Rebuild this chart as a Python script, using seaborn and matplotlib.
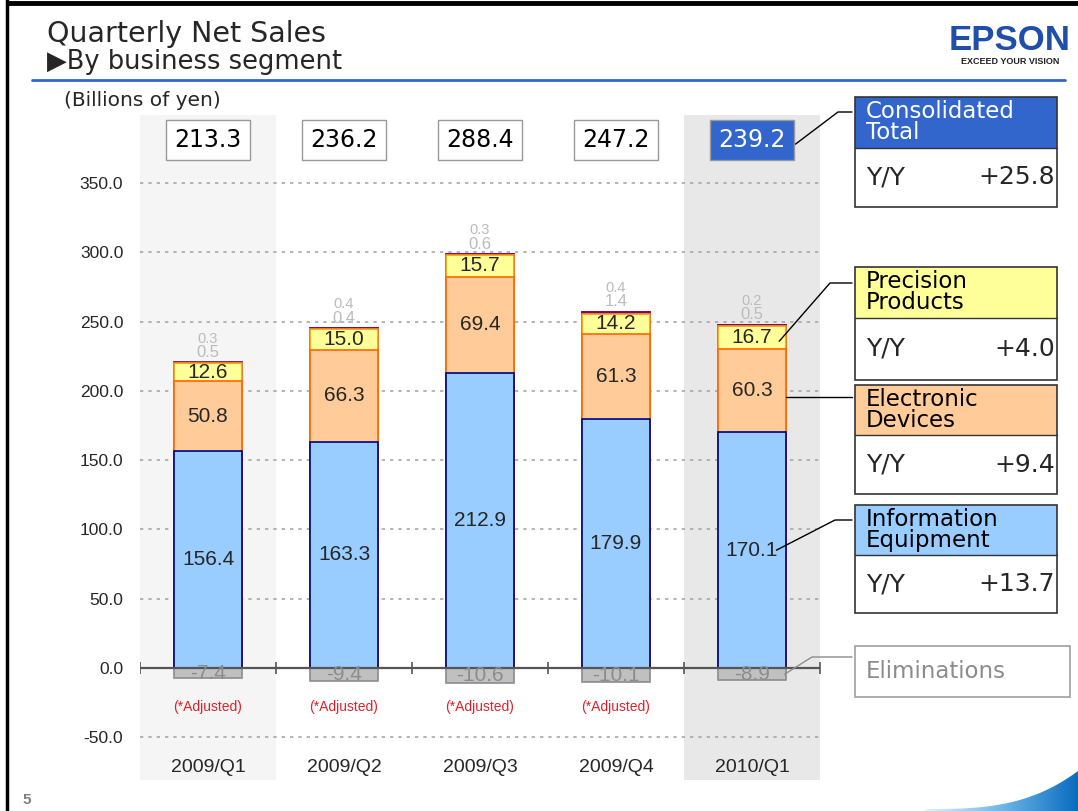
import matplotlib as mpl
mpl.use('Agg')
import matplotlib.pyplot as plt
from matplotlib.patches import Rectangle, PathPatch
from matplotlib.path import Path
from matplotlib.colors import LinearSegmentedColormap
import numpy as np
import pandas as pd
import seaborn as sns

# --- datos ---
quarters = ['2009/Q1', '2009/Q2', '2009/Q3', '2009/Q4', '2010/Q1']
info_equipment = [156.4, 163.3, 212.9, 179.9, 170.1]
electronic_devices = [50.8, 66.3, 69.4, 61.3, 60.3]
precision_products = [12.6, 15.0, 15.7, 14.2, 16.7]
other = [0.5, 0.4, 0.6, 1.4, 0.5]
corporate = [0.3, 0.4, 0.3, 0.4, 0.2]
eliminations = [-7.4, -9.4, -10.6, -10.1, -8.9]
totals = ['213.3', '236.2', '288.4', '247.2', '239.2']
adjusted = [True, True, True, True, False]
yticks = [-50, 0, 50, 100, 150, 200, 250, 300, 350]
yoy_names = ['Consolidated\nTotal', 'Precision\nProducts', 'Electronic\nDevices', 'Information\nEquipment']
yoy_values = ['+25.8', '+4.0', '+9.4', '+13.7']

df = pd.DataFrame({'quarter': quarters, 'info': info_equipment, 'elec': electronic_devices,
                   'prec': precision_products, 'other': other, 'corp': corporate, 'elim': eliminations})
df['c_info'] = df['info']
df['c_elec'] = df['c_info'] + df['elec']
df['c_prec'] = df['c_elec'] + df['prec']
df['c_other'] = df['c_prec'] + df['other']
df['c_corp'] = df['c_other'] + df['corp']

sns.set_theme(style='white')
plt.rcParams['font.family'] = ['Liberation Sans', 'DejaVu Sans']
gothic = ['DejaVu Sans']

W, H = 1078, 811
fig = plt.figure(figsize=(W / 100, H / 100), dpi=100)
fig.patch.set_facecolor('white')

# ejes principales en pixeles: x 140..820, y 115..780
ax = fig.add_axes([140 / W, 1 - 780 / H, 680 / W, 665 / H])
ax.set_facecolor('none')

ax.axvspan(-0.5, 0.5, color='#F5F5F5', zorder=0, lw=0)
ax.axvspan(3.5, 4.5, color='#E8E8E8', zorder=0, lw=0)
for v in yticks:
    if v != 0:
        ax.axhline(v, color='#A8A8A8', lw=1.2, ls=(0, (2, 3)), zorder=0.5)

# barras apiladas (de mayor a menor acumulado)
layers = [('c_corp', '#660066', '#660066'),
          ('c_other', '#800080', '#800080'),
          ('c_prec', '#FFFF99', '#FF9900'),
          ('c_elec', '#FFCC99', '#FF6600'),
          ('c_info', '#99CCFF', '#000080')]
for col, fc, ec in layers:
    sns.barplot(data=df, x='quarter', y=col, color=fc, edgecolor=ec, linewidth=1.2,
                width=0.5, saturation=1, errorbar=None, ax=ax, zorder=2)
sns.barplot(data=df, x='quarter', y='elim', color='#C0C0C0', edgecolor='#8C8C8C', linewidth=1.2,
            width=0.5, saturation=1, errorbar=None, ax=ax, zorder=2)

ax.axhline(0, color='#555555', lw=1.6, zorder=3)
ax.plot(np.arange(-0.5, 5), np.zeros(6), '|', ms=9, mew=1.2, color='#555555', zorder=3)

for i in range(len(quarters)):
    ax.text(i, info_equipment[i] / 2, f'{info_equipment[i]:.1f}', ha='center', va='center', fontsize=15, zorder=4)
    ax.text(i, df['c_info'][i] + electronic_devices[i] / 2, f'{electronic_devices[i]:.1f}',
            ha='center', va='center', fontsize=15, zorder=4)
    ax.text(i, df['c_elec'][i] + precision_products[i] / 2, f'{precision_products[i]:.1f}',
            ha='center', va='center', fontsize=15, zorder=4)
    top = df['c_corp'][i]
    ax.annotate(f'{other[i]:.1f}', (i, top), xytext=(0, 7), textcoords='offset points',
                ha='center', va='center', fontsize=12, color='#BBBBBB', zorder=4)
    ax.annotate(f'{corporate[i]:.1f}', (i, top), xytext=(0, 17), textcoords='offset points',
                ha='center', va='center', fontsize=10.5, color='#BBBBBB', zorder=4)
    ax.text(i, eliminations[i] / 2, f'{eliminations[i]:.1f}', ha='center', va='center',
            fontsize=15, color='#8C8C8C', zorder=4)
    if adjusted[i]:
        ax.text(i, -28, '(*Adjusted)', ha='center', va='center', fontsize=10, color='#E0202A')
    ax.text(i, -72, quarters[i], ha='center', va='center', fontsize=14)
    last = i == len(quarters) - 1
    ax.text(i, 381, totals[i], ha='center', va='center', fontsize=17, family=gothic,
            color='white' if last else 'black',
            bbox=dict(boxstyle='square,pad=0.34', fc='#3366CC' if last else 'white', ec='#999999', lw=1))

ax.set_xlim(-0.5, 4.5)
ax.set_ylim(-80.8, 399)
ax.set_xticks([])
ax.set_yticks(yticks)
ax.set_yticklabels([f'{v:.1f}' for v in yticks], fontsize=12.5)
ax.tick_params(axis='y', length=0, pad=12)
ax.set_xlabel('')
ax.set_ylabel('')
for s in ax.spines.values():
    s.set_visible(False)

# capa superior en pixeles para titulo, cajas y adornos
ov = fig.add_axes([0, 0, 1, 1], zorder=5)
ov.set_facecolor('none')
ov.set_xlim(0, W)
ov.set_ylim(H, 0)
ov.axis('off')

ov.plot([8, W], [3, 3], color='black', lw=3.5)
ov.plot([7, 7], [0, H], color='black', lw=2.5)
ov.plot([32, 1065], [80, 80], color='#3366CC', lw=2)
ov.text(47, 34, 'Quarterly Net Sales', va='center', fontsize=20.5, family=gothic)
ov.text(47, 62, '▶By business segment', va='center', fontsize=18.5, family=gothic)
ov.text(64, 100, '(Billions of yen)', va='center', fontsize=14.5, family=gothic)
ov.text(22, 800, '5', va='center', fontsize=11, color='#808080', fontweight='bold')
ov.text(1010, 40, 'EPSON', ha='center', va='center', fontsize=25, fontweight='bold', color='#1F4EAD')
ov.text(1010, 61, 'EXCEED YOUR VISION', ha='center', va='center', fontsize=6.5, fontweight='bold', color='#222222')


def to_px(x, y):
    return ov.transData.inverted().transform(ax.transData.transform((x, y)))


# cajas de la derecha: (top, header_bottom, bottom, color, y_conexion)
boxes = [(97, 148, 207, '#3366CC', 112), (267, 318, 380, '#FFFF99', 283),
         (385, 435, 494, '#FFCC99', 397), (505, 555, 613, '#99CCFF', 520)]
starts = [to_px(4.32, 378), to_px(4.2, df['c_elec'][4] + precision_products[4] / 2 - 3),
          to_px(4.25, df['c_info'][4] + electronic_devices[4] / 2 - 5), to_px(4.18, info_equipment[4] / 2)]
elbows = [838, 830, None, 835]
for k, (t, hb, b, col, yc) in enumerate(boxes):
    ov.add_patch(Rectangle((855, t), 202, hb - t, fc=col, ec='none'))
    ov.add_patch(Rectangle((855, t), 202, b - t, fc='none', ec='#333333', lw=1.2))
    ov.plot([855, 1057], [hb, hb], color='#333333', lw=1)
    ov.text(866, t + 3, yoy_names[k], va='top', fontsize=16.5, linespacing=0.88, family=gothic,
            color='white' if k == 0 else 'black')
    ov.text(866, (hb + b) / 2, 'Y/Y', va='center', fontsize=18, family=gothic)
    ov.text(1055, (hb + b) / 2, yoy_values[k], va='center', ha='right', fontsize=18, family=gothic)
    sx, sy = starts[k]
    if elbows[k] is None:
        ov.plot([sx, 852], [yc, yc], color='black', lw=1)
    else:
        ov.plot([sx, elbows[k], 852], [sy, yc, yc], color='black', lw=1)

ov.add_patch(Rectangle((855, 646), 215, 51, fc='white', ec='#A0A0A0', lw=1.2))
ov.text(866, 671, 'Eliminations', va='center', fontsize=16.5, color='#8C8C8C', family=gothic)
ex, ey = to_px(4.24, eliminations[4] / 2)
ov.plot([ex, 812, 852], [ey, 657, 657], color='#8C8C8C', lw=1)

# adorno degradado abajo a la derecha
xs = np.linspace(925, W, 50)
ys = H - 2 - 38 * ((xs - 925) / (W - 925)) ** 3
verts = list(zip(xs, ys)) + [(W, H), (925, H)]
clip = PathPatch(Path(verts), fc='none', ec='none')
ov.add_patch(clip)
cmap = LinearSegmentedColormap.from_list('swoosh', ['#E6F2FB', '#6FB6E6', '#0A6CC0'])
img = ov.imshow(np.linspace(0, 1, 256).reshape(1, -1), cmap=cmap, extent=[925, W, H, 770], aspect='auto')
img.set_clip_path(clip)
ov.set_xlim(0, W)
ov.set_ylim(H, 0)

fig.savefig('out.png', dpi=100)
